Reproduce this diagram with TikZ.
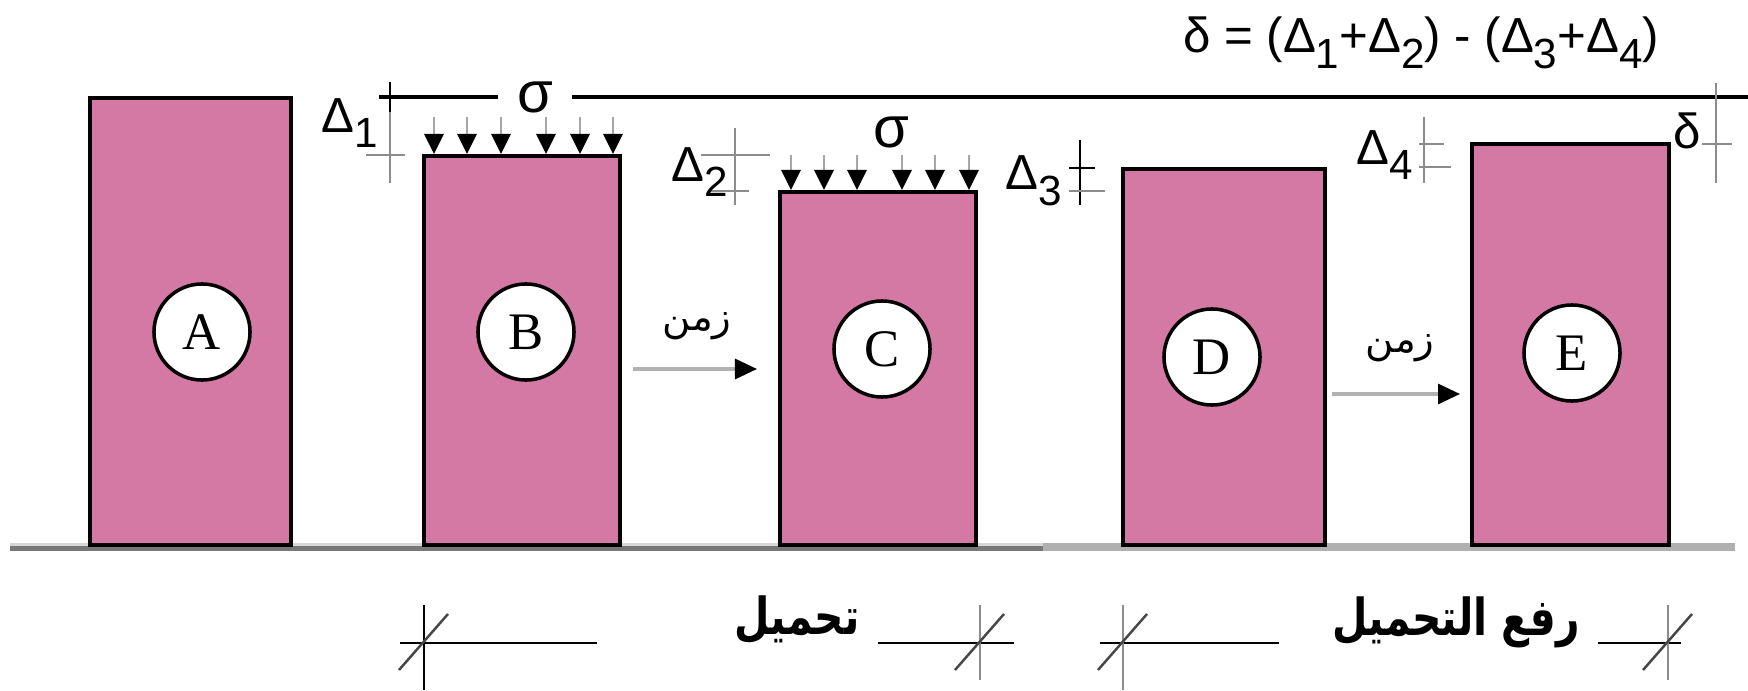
\documentclass[tikz,border=0pt]{standalone}
\usepackage{fontspec}
\setmainfont{Liberation Sans}
\newfontfamily\letterfont{Liberation Serif}
\newfontfamily\arabicfont[Script=Arabic]{DejaVu Sans}
\newfontfamily\arabicbold[Script=Arabic,FakeStretch=0.8]{DejaVu Sans Bold}
\TeXXeTstate=1
\usetikzlibrary{arrows.meta}
\definecolor{pierpink}{RGB}{212,121,164}
\definecolor{groundpale}{RGB}{215,215,215}
\definecolor{grounddark}{RGB}{120,120,120}
\definecolor{groundmid}{RGB}{176,176,176}
\definecolor{dimgray}{RGB}{140,140,140}
\definecolor{slashgray}{RGB}{70,70,70}
\newcommand\lowsub[1]{\raisebox{-0.32em}{\fontsize{12}{12}\selectfont#1}}

\begin{document}
\begin{tikzpicture}[x=0.01cm,y=-0.01cm,
  pier/.style={draw=black,line width=1.15pt,fill=pierpink},
  tag/.style={circle,draw=black,line width=1pt,fill=white,minimum size=0.96cm,
    inner sep=0pt,font=\letterfont\fontsize{15}{15}\selectfont},
  press/.style={gray!70,line width=0.8pt,-{Triangle[width=0.19cm,length=0.2cm,color=black]}},
  timearrow/.style={gray!60,line width=0.9pt,-{Triangle[width=0.2cm,length=0.22cm,color=black]}},
  dimline/.style={dimgray,line width=0.6pt},
  sym/.style={font=\fontsize{14}{14}\selectfont,inner sep=0pt},
  arsmall/.style={font=\arabicfont\fontsize{11}{11}\selectfont,inner sep=0pt},
  arbold/.style={font=\arabicbold\fontsize{14.5}{14.5}\selectfont,inner sep=0pt},
  span/.style={black,line width=0.8pt},
  cross/.style={slashgray,line width=0.7pt}
]
\useasboundingbox (0,0) rectangle (1748,691);

% ground
\fill[groundpale] (10,543) rectangle (1043,546);
\fill[grounddark] (10,546) rectangle (1043,551);
\fill[groundmid] (1043,543) rectangle (1735,551);

% piers
\draw[pier] (90,98) rectangle (291,545);
\draw[pier] (424,156) rectangle (620,545);
\draw[pier] (780,192) rectangle (976,545);
\draw[pier] (1123,169) rectangle (1325,545);
\draw[pier] (1472,144) rectangle (1669,545);

\node[tag] (A) at (202,332) {A};
\node[tag] (B) at (526,332) {B};
\node[tag] (C) at (882,349) {C};
\node[tag] (D) at (1212,357) {D};
\node[tag] (E) at (1572,353) {E};

% reference level
\draw[line width=1pt] (379,97) -- (1748,97);
\node[font=\fontsize{16.5}{16.5}\selectfont,fill=white,inner sep=0pt,minimum width=0.73cm] (sigB) at (535,97) {σ};
\node[font=\fontsize{16.5}{16.5}\selectfont,inner sep=0pt] (sigC) at (891,132) {σ};
\node[sym] (delta) at (1421,43) {δ = (Δ\lowsub{1}+Δ\lowsub{2}) - (Δ\lowsub{3}+Δ\lowsub{4})};

% loads
\foreach \x in {434,467,501,546,580,613}
  \draw[press] (\x,117) -- (\x,154);
\foreach \x in {791,824,857,902,935,969}
  \draw[press] (\x,155) -- (\x,190);

% settlements
\draw[line width=0.8pt] (390,82) -- (390,112);
\draw[dimline] (390,112) -- (390,183);
\draw[dimline] (366,155) -- (405,155);
\node[sym] (d1) at (350,123) {Δ\lowsub{1}};

\draw[dimline] (735,128) -- (735,205);
\draw[dimline] (701,155) -- (770,155);
\draw[dimline] (709,191) -- (749,191);
\node[sym] (d2) at (700,172) {Δ\lowsub{2}};

\draw[line width=0.8pt] (1080,140) -- (1080,205);
\draw[line width=0.8pt] (1069,168) -- (1095,168);
\draw[dimline] (1069,191) -- (1105,191);
\node[sym] (d3) at (1034,181) {Δ\lowsub{3}};

\draw[dimline] (1424,117) -- (1424,183);
\draw[dimline] (1419,144) -- (1444,144);
\draw[dimline] (1419,167) -- (1451,167);
\node[sym] (d4) at (1385,155) {Δ\lowsub{4}};

\draw[dimline] (1716,83) -- (1716,183);
\draw[dimline] (1702,144) -- (1732,144);
\node[sym] (dd) at (1687,131) {δ};

% time
\coordinate (t1a) at (633,369);
\coordinate (t1b) at (757,369);
\coordinate (t2a) at (1332,394);
\coordinate (t2b) at (1460,394);
\draw[timearrow] (t1a) -- (t1b);
\draw[timearrow] (t2a) -- (t2b);
\node[arsmall] (time1) at (697,326) {\beginR زمن\endR};
\node[arsmall] (time2) at (1400,348) {\beginR زمن\endR};

% loading / unloading spans
\coordinate (ls) at (424,643);
\coordinate (le) at (980,643);
\coordinate (us) at (1123,643);
\coordinate (ue) at (1668,643);
\draw[span] (400,643) -- (597,643);
\draw[span] (878,643) -- (1014,643);
\draw[span] (1100,643) -- (1279,643);
\draw[span] (1598,643) -- (1681,643);
\draw[black,line width=0.7pt] (ls) ++(0,-38) -- ++(0,85);
\draw[dimline,line width=0.8pt] (le) ++(0,-38) -- ++(0,75);
\draw[dimline,line width=0.8pt] (us) ++(0,-38) -- ++(0,85);
\draw[dimline,line width=0.8pt] (ue) ++(0,-38) -- ++(0,75);
\foreach \p in {ls,le,us,ue}
  \draw[cross] (\p) ++(-25,27) -- ++(49,-56);
\node[arbold] (load) at (797,620) {\beginR تحميل\endR};
\node[arbold] (unload) at (1456,622) {\beginR رفع التحميل\endR};
\end{tikzpicture}
\end{document}
